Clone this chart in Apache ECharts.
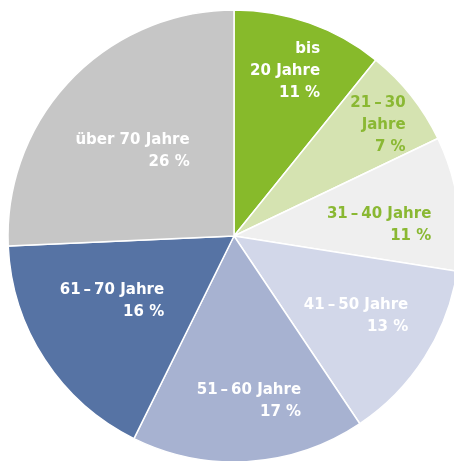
<!DOCTYPE html>
<html>
<head>
<meta charset="utf-8">
<script src="https://cdn.jsdelivr.net/npm/echarts@6/dist/echarts.min.js"></script>
<style>
    html, body { margin: 0; padding: 0; background: #fff; }
    #chart { width: 454px; height: 461px; }
</style>
</head>
<body>
<div id="chart"></div>
<script>
// Altersgruppen
const categories = ['bis\n20 Jahre', '21\u2009–\u200930\nJahre', '31\u2009–\u200940 Jahre', '41\u2009–\u200950 Jahre', '51\u2009–\u200960 Jahre', '61\u2009–\u200970 Jahre', 'über 70 Jahre'];
// slice sizes as drawn in the picture (%)
const shares = [10.8, 7.1, 9.6, 13.1, 16.7, 17.0, 25.7];
// percentages as printed on the labels
const printed = ['11 %', '7 %', '11 %', '13 %', '17 %', '16 %', '26 %'];

const sliceColors = ['#87ba2b', '#d5e3b1', '#efefef', '#d2d7e9', '#a7b2d1', '#5673a4', '#c6c6c6'];
const labelColors = ['#ffffff', '#8ab833', '#8ab833', '#ffffff', '#ffffff', '#ffffff', '#ffffff'];
// label block centre, as offset from pie centre in units of the radius
const labelOffsets = [[0.226, -0.730], [0.637, -0.491], [0.642, -0.049], [0.540, 0.354], [0.066, 0.730], [-0.540, 0.288], [-0.449, -0.376]];

const cx = 234, cy = 236, r = 226;

let chart = echarts.init(document.getElementById('chart'));

const option = {
    animation: false,
    series: [
        {
            type: 'pie',
            center: [cx, cy],
            radius: r,
            startAngle: 90,
            clockwise: true,
            itemStyle: {
                borderColor: '#fff',
                borderWidth: 1.5
            },
            label: {
                position: 'inside',
                fontFamily: 'DejaVu Sans',
                fontWeight: 'bold',
                fontSize: 15,
                lineHeight: 22,
                align: 'right',
                formatter: function (p) {
                    return p.name + '\n' + printed[p.dataIndex];
                }
            },
            labelLine: { show: false },
            labelLayout: function (p) {
                const lr = p.labelRect;
                const off = labelOffsets[p.dataIndex];
                return {
                    x: cx + off[0] * r + lr.width / 2,
                    y: cy + off[1] * r,
                    align: 'right',
                    verticalAlign: 'middle'
                };
            },
            data: categories.map(function (name, i) {
                return {
                    name: name,
                    value: shares[i],
                    itemStyle: { color: sliceColors[i] },
                    label: { color: labelColors[i] }
                };
            })
        }
    ]
};

chart.setOption(option);

window.addEventListener('resize', function () {
    chart.resize();
});
</script>
</body>
</html>
